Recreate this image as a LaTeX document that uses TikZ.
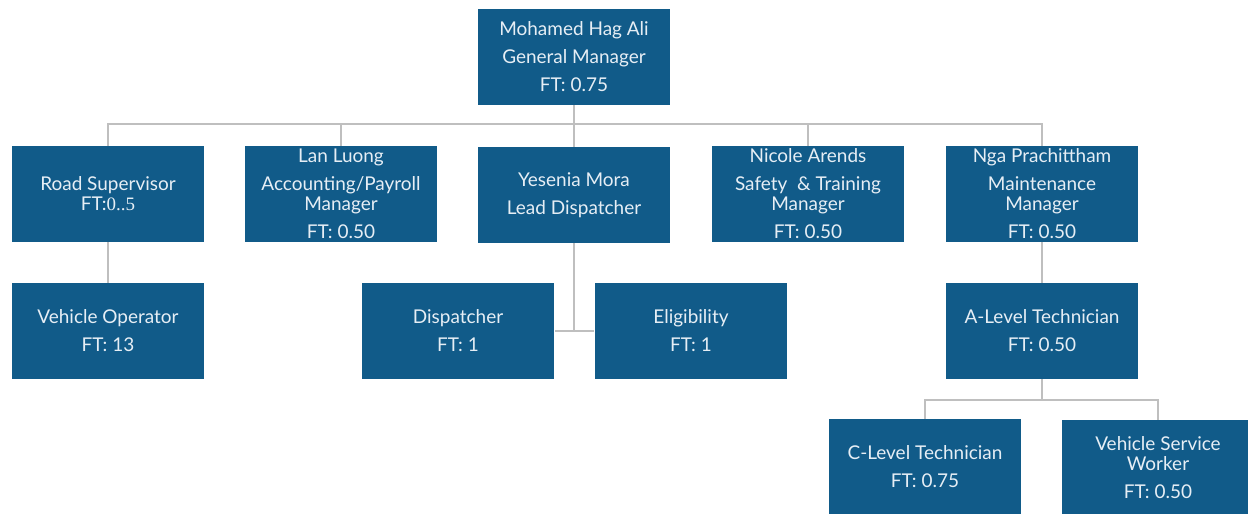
\documentclass[tikz,border=0pt]{standalone}
\usepackage{fontspec}
\setmainfont{Lato}
\newfontfamily\numserif{Liberation Serif}
\usetikzlibrary{positioning}

\definecolor{staffblue}{HTML}{115B89}
\definecolor{stafftext}{HTML}{E6EEF5}
\definecolor{linkgray}{HTML}{BFBFBF}

\begin{document}
\begin{tikzpicture}[x=0.02cm, y=-0.02cm]
        \tikzstyle{staff} = [rectangle, fill=staffblue, text=stafftext, align=center, font=\fontsize{10.8}{11.4}\selectfont, minimum height=1.92cm, minimum width=3.86cm, inner sep=0pt]
        \tikzstyle{link} = [draw=linkgray, line width=1pt]

        \useasboundingbox (0,0) rectangle (1248,514);

        % top
        \node (gm) [staff] at (574,57) {Mohamed Hag Ali\\[4.5pt]General Manager\\[4.5pt]FT: 0.75};

        % second row
        \node (road) [staff] at (108,194) {Road Supervisor\\FT:{\numserif 0..5}};
        \node (lan) [staff] at (341,194) {Lan Luong\\[4.5pt]Accounting/Payroll\\Manager\\[4.5pt]FT: 0.50};
        \node (lead) [staff] at (574,195) {Yesenia Mora\\[4.5pt]Lead Dispatcher};
        \node (nicole) [staff] at (808,194) {Nicole Arends\\[4.5pt]Safety~~\& Training\\Manager\\[4.5pt]FT: 0.50};
        \node (nga) [staff] at (1042,194) {Nga Prachittham\\[4.5pt]Maintenance\\Manager\\[4.5pt]FT: 0.50};

        % third row
        \node (operator) [staff] at (108,331) {Vehicle Operator\\[4.5pt]FT: 13};
        \node (disp) [staff] at (458,331) {Dispatcher\\[4.5pt]FT: 1};
        \node (elig) [staff] at (691,331) {Eligibility\\[4.5pt]FT: 1};
        \node (alevel) [staff] at (1042,331) {A-Level Technician\\[4.5pt]FT: 0.50};

        % fourth row
        \node (clevel) [staff] at (925,467) {C-Level Technician\\[4.5pt]FT: 0.75};
        \node (vsw) [staff] at (1158,468) {Vehicle Service\\Worker\\[4.5pt]FT: 0.50};

        \foreach \n in {road, lan, lead, nicole, nga}
            \draw [link] (gm.south) -- ++(0,19) -| (\n.north);
        \draw [link] (road) -- (operator);
        \draw [link] (nga) -- (alevel);
        \draw [link] (lead.south) |- (disp.east);
        \draw [link] (lead.south) |- (elig.west);
        \draw [link] (alevel.south) -- ++(0,21) -| (clevel.north);
        \draw [link] (alevel.south) -- ++(0,21) -| (vsw.north);
    \end{tikzpicture}
\end{document}
